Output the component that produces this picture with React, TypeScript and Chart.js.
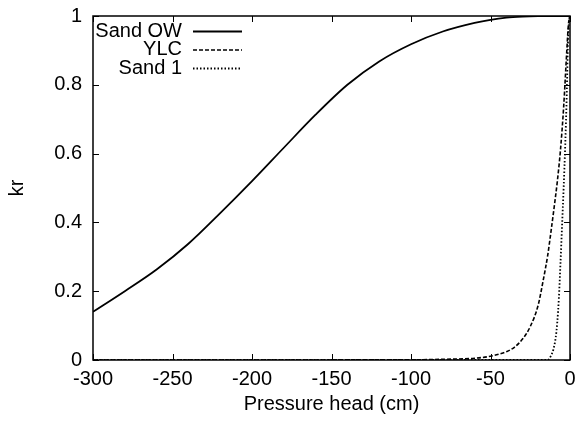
import React, { useEffect, useRef } from "react";
import { Chart, registerables } from "chart.js";

Chart.register(...registerables);

// ---- data ----
const xTickValues = [-300, -250, -200, -150, -100, -50, 0];
const xTickLabels = ["-300", "-250", "-200", "-150", "-100", "-50", "0"];
const yTickValues = [0, 0.2, 0.4, 0.6, 0.8, 1];
const yTickLabels = ["0", "0.2", "0.4", "0.6", "0.8", "1"];

const seriesNames = ["Sand OW", "YLC", "Sand 1"];

const sandOwHead = [-300, -280, -260, -240, -220, -200, -180, -160, -140, -120, -100, -80, -60, -50, -40, -30, -20, -10, 0];
const sandOwKr = [0.14, 0.2, 0.263, 0.338, 0.427, 0.52, 0.617, 0.713, 0.8, 0.868, 0.918, 0.955, 0.98, 0.989, 0.995, 0.998, 0.9995, 1, 1];

const ylcHead = [-300, -100, -80, -60, -50, -44, -40, -35, -30, -25, -20, -17, -14, -12, -10, -8, -6, -4, -2, -1, 0];
const ylcKr = [0, 0.0005, 0.002, 0.005, 0.011, 0.018, 0.024, 0.037, 0.06, 0.097, 0.16, 0.228, 0.305, 0.372, 0.443, 0.518, 0.61, 0.735, 0.9, 0.975, 1];

const sand1Head = [-300, -14, -13, -12, -10.5, -9, -8, -7, -6, -5, -4, -3, -2, -1.3, -0.5, 0];
const sand1Kr = [0, 0, 0.004, 0.012, 0.03, 0.065, 0.11, 0.18, 0.28, 0.39, 0.5, 0.625, 0.78, 0.92, 0.99, 1];

const toPoints = (xs: number[], ys: number[]) => xs.map((x, i) => ({ x, y: ys[i] }));

const FONT = "'Liberation Sans', Arial, sans-serif";
const FONT_SIZE = 20;

const framePlugin = {
  id: "gnuplotFrame",
  afterDraw(chart: any) {
    const { ctx, chartArea } = chart;
    const { left, right, top, bottom } = chartArea;
    const xs = chart.scales.x;
    const ys = chart.scales.y;
    ctx.save();
    ctx.strokeStyle = "#000";
    ctx.setLineDash([]);
    ctx.lineWidth = 1;
    const tl = 6;
    ctx.beginPath();
    xTickValues.forEach((v) => {
      const px = Math.round(xs.getPixelForValue(v)) + 0.5;
      ctx.moveTo(px, bottom);
      ctx.lineTo(px, bottom - tl);
      ctx.moveTo(px, top);
      ctx.lineTo(px, top + tl);
    });
    yTickValues.forEach((v) => {
      const py = Math.round(ys.getPixelForValue(v)) + 0.5;
      ctx.moveTo(left, py);
      ctx.lineTo(left + tl, py);
      ctx.moveTo(right, py);
      ctx.lineTo(right - tl, py);
    });
    ctx.stroke();
    ctx.lineWidth = 1.5;
    ctx.strokeRect(left, top, right - left, bottom - top);

    // gnuplot-style key: text right aligned, sample to the right
    ctx.font = `${FONT_SIZE}px ${FONT}`;
    ctx.fillStyle = "#000";
    ctx.textAlign = "right";
    ctx.textBaseline = "middle";
    chart.data.datasets.forEach((ds: any, i: number) => {
      const y = top + 15 + i * 18.5;
      ctx.fillText(ds.label, left + 89, y);
      ctx.beginPath();
      ctx.setLineDash(ds.borderDash || []);
      ctx.lineWidth = ds.borderWidth;
      ctx.strokeStyle = ds.borderColor;
      ctx.moveTo(left + 100, y + 0.5);
      ctx.lineTo(left + 149, y + 0.5);
      ctx.stroke();
    });
    ctx.restore();
  },
};

export default function App() {
  const ref = useRef<HTMLCanvasElement | null>(null);
  useEffect(() => {
    if (!ref.current) return;
    Chart.defaults.font.family = FONT;
    Chart.defaults.font.size = FONT_SIZE;
    Chart.defaults.color = "#000";
    const chart = new Chart(ref.current, {
      type: "line",
      data: {
        datasets: [
          {
            label: seriesNames[0],
            data: toPoints(sandOwHead, sandOwKr),
            borderColor: "#000",
            borderWidth: 1.8,
            pointRadius: 0,
            cubicInterpolationMode: "monotone",
          },
          {
            label: seriesNames[1],
            data: toPoints(ylcHead, ylcKr),
            borderColor: "#000",
            borderWidth: 1.6,
            borderDash: [4, 2],
            pointRadius: 0,
            cubicInterpolationMode: "monotone",
          },
          {
            label: seriesNames[2],
            data: toPoints(sand1Head, sand1Kr),
            borderColor: "#000",
            borderWidth: 1.8,
            borderDash: [1.5, 2],
            pointRadius: 0,
            cubicInterpolationMode: "monotone",
          },
        ],
      },
      options: {
        animation: false,
        responsive: false,
        devicePixelRatio: 1,
        layout: { padding: { top: 16, right: 10, left: 0, bottom: 0 } },
        plugins: { legend: { display: false }, tooltip: { enabled: false } },
        scales: {
          x: {
            type: "linear",
            min: -300,
            max: 0,
            grid: { display: false, drawTicks: false },
            border: { display: false },
            afterBuildTicks: (s: any) => {
              s.ticks = xTickValues.map((v) => ({ value: v }));
            },
            afterFit: (s: any) => {
              s.height = 61;
              s.paddingLeft = 0;
              s.paddingRight = 0;
            },
            ticks: {
              padding: 7,
              maxRotation: 0,
              autoSkip: false,
              callback: (v: any) => {
                const i = xTickValues.indexOf(Number(v));
                return i >= 0 ? xTickLabels[i] : "";
              },
            },
            title: { display: true, text: "Pressure head (cm)", padding: { top: 0, bottom: 5 } },
          },
          y: {
            type: "linear",
            min: 0,
            max: 1,
            grid: { display: false, drawTicks: false },
            border: { display: false },
            afterBuildTicks: (s: any) => {
              s.ticks = yTickValues.map((v) => ({ value: v }));
            },
            afterFit: (s: any) => {
              s.width = 93;
              s.paddingTop = 0;
              s.paddingBottom = 0;
            },
            ticks: {
              padding: 11,
              autoSkip: false,
              callback: (v: any) => {
                const i = yTickValues.findIndex((t) => Math.abs(t - Number(v)) < 1e-9);
                return i >= 0 ? yTickLabels[i] : "";
              },
            },
            title: { display: true, text: "kr", padding: { top: 5, bottom: 0 } },
          },
        },
      },
      plugins: [framePlugin],
    } as any);
    return () => chart.destroy();
  }, []);
  return (
    <div style={{ position: "absolute", left: 0, top: 0, width: 580, height: 421, background: "#fff" }}>
      <canvas ref={ref} width={580} height={421} style={{ display: "block" }} />
    </div>
  );
}
